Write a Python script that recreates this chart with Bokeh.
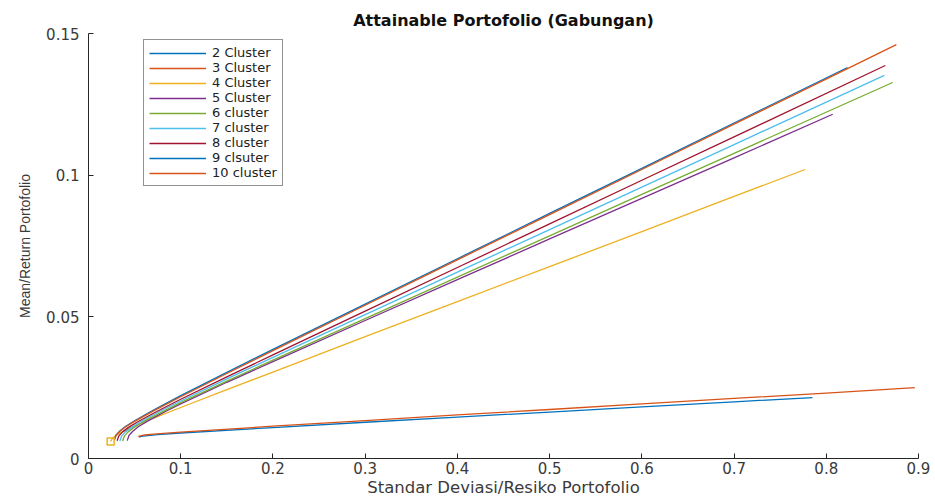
from bokeh.plotting import figure
from bokeh.models import Range1d, FixedTicker, Legend, LegendItem
from bokeh.embed import file_html
from bokeh.resources import INLINE

# Portfolio risk (std. dev.) and mean return along each efficient frontier
sd_2 = [0.055, 0.057, 0.062, 0.075, 0.1, 0.2, 0.3, 0.4, 0.5, 0.6, 0.7, 0.785]
mu_2 = [0.0075, 0.0078, 0.0080, 0.0084, 0.0090, 0.0109, 0.0128, 0.0146, 0.0164, 0.0182, 0.0200, 0.0215]

sd_3 = [0.054, 0.056, 0.061, 0.074, 0.1, 0.2, 0.3, 0.4, 0.5, 0.6, 0.7, 0.8, 0.896]
mu_3 = [0.0077, 0.0080, 0.0083, 0.0087, 0.0093, 0.0114, 0.0134, 0.0154, 0.0173, 0.0193, 0.0212, 0.0231, 0.0250]

sd_4 = [0.024, 0.026, 0.030, 0.036, 0.046, 0.066, 0.1, 0.15, 0.2, 0.3, 0.4, 0.5, 0.6, 0.7, 0.777]
mu_4 = [0.0060, 0.0072, 0.0082, 0.0093, 0.0109, 0.0136, 0.0180, 0.0243, 0.0305, 0.0430, 0.0554, 0.0677, 0.0801, 0.0925, 0.1020]

sd_5 = [0.042, 0.044, 0.048, 0.054, 0.064, 0.084, 0.1, 0.15, 0.2, 0.3, 0.4, 0.5, 0.6, 0.7, 0.807]
mu_5 = [0.0063, 0.0082, 0.0096, 0.0112, 0.0132, 0.0167, 0.0193, 0.0269, 0.0342, 0.0487, 0.0631, 0.0775, 0.0918, 0.1061, 0.1215]

sd_6 = [0.037, 0.039, 0.043, 0.049, 0.059, 0.079, 0.1, 0.15, 0.2, 0.3, 0.4, 0.5, 0.6, 0.7, 0.872]
mu_6 = [0.0062, 0.0080, 0.0094, 0.0109, 0.0129, 0.0163, 0.0197, 0.0273, 0.0347, 0.0494, 0.0640, 0.0786, 0.0932, 0.1077, 0.1327]

sd_7 = [0.034, 0.036, 0.040, 0.046, 0.056, 0.076, 0.1, 0.15, 0.2, 0.3, 0.4, 0.5, 0.6, 0.7, 0.863]
mu_7 = [0.0062, 0.0080, 0.0094, 0.0108, 0.0129, 0.0164, 0.0203, 0.0281, 0.0357, 0.0508, 0.0658, 0.0808, 0.0958, 0.1108, 0.1352]

sd_8 = [0.031, 0.033, 0.037, 0.043, 0.053, 0.073, 0.1, 0.15, 0.2, 0.3, 0.4, 0.5, 0.6, 0.7, 0.864]
mu_8 = [0.0063, 0.0080, 0.0094, 0.0109, 0.0129, 0.0164, 0.0209, 0.0288, 0.0366, 0.0520, 0.0674, 0.0828, 0.0982, 0.1135, 0.1387]

sd_9 = [0.028, 0.030, 0.034, 0.040, 0.050, 0.070, 0.1, 0.15, 0.2, 0.3, 0.4, 0.5, 0.6, 0.7, 0.823]
mu_9 = [0.0066, 0.0083, 0.0097, 0.0113, 0.0133, 0.0170, 0.0222, 0.0304, 0.0385, 0.0545, 0.0705, 0.0865, 0.1024, 0.1184, 0.1380]

sd_10 = [0.028, 0.030, 0.034, 0.040, 0.050, 0.070, 0.1, 0.15, 0.2, 0.3, 0.4, 0.5, 0.6, 0.7, 0.823, 0.876]
mu_10 = [0.0065, 0.0082, 0.0096, 0.0111, 0.0131, 0.0167, 0.0218, 0.0300, 0.0381, 0.0541, 0.0701, 0.0861, 0.1020, 0.1180, 0.1376, 0.1461]

labels = ["2 Cluster", "3 Cluster", "4 Cluster", "5 Cluster", "6 cluster",
          "7 cluster", "8 cluster", "9 clsuter", "10 cluster"]
colors = ["#0072BD", "#D95319", "#EDB120", "#7E2F8E", "#77AC30",
          "#4DBEEE", "#A2142F", "#0072BD", "#D95319"]

x_ticks = [0, 0.1, 0.2, 0.3, 0.4, 0.5, 0.6, 0.7, 0.8, 0.9]
x_tick_labels = ["0", "0.1", "0.2", "0.3", "0.4", "0.5", "0.6", "0.7", "0.8", "0.9"]
y_ticks = [0, 0.05, 0.1, 0.15]
y_tick_labels = ["0", "0.05", "0.1", "0.15"]

# marker at the minimum-variance point of the 4-cluster frontier
mvp_4_sd = [0.024]
mvp_4_mu = [0.006]

series = [(sd_2, mu_2), (sd_3, mu_3), (sd_4, mu_4), (sd_5, mu_5), (sd_6, mu_6),
          (sd_7, mu_7), (sd_8, mu_8), (sd_9, mu_9), (sd_10, mu_10)]

WIDE = "DejaVu Sans"
NARROW = "Liberation Sans"
TXT = "#3a3a3a"

p = figure(width=935, height=499, output_backend="svg", toolbar_location=None,
           x_range=Range1d(0, 0.9), y_range=Range1d(0, 0.15),
           min_border_left=88, min_border_right=17, min_border_top=33,
           min_border_bottom=40)

p.title.text = "Attainable Portofolio (Gabungan)"
p.title.align = "center"
p.title.text_font = WIDE
p.title.text_font_size = "16px"
p.title.text_font_style = "bold"
p.title.text_color = "#111111"
p.title.standoff = 8

p.outline_line_color = None
p.grid.visible = False
p.background_fill_color = "white"
p.border_fill_color = "white"

for ax, ticks, tlabels in ((p.xaxis[0], x_ticks, x_tick_labels), (p.yaxis[0], y_ticks, y_tick_labels)):
    ax.ticker = FixedTicker(ticks=ticks)
    ax.major_label_overrides = {t: s for t, s in zip(ticks, tlabels)}
    ax.major_tick_in = 5
    ax.major_tick_out = 0
    ax.minor_tick_line_color = None
    ax.axis_line_color = "#262626"
    ax.major_tick_line_color = "#262626"
    ax.major_label_text_font = WIDE
    ax.major_label_text_font_size = "15px"
    ax.major_label_text_color = TXT
    ax.axis_label_text_font_style = "normal"
    ax.axis_label_text_color = TXT

p.xaxis.axis_label = "Standar Deviasi/Resiko Portofolio"
p.xaxis.axis_label_text_font = WIDE
p.xaxis.axis_label_text_font_size = "16.5px"
p.xaxis.major_label_standoff = 3
p.xaxis.axis_label_standoff = 1

p.yaxis.axis_label = "Mean/Return Portofolio"
p.yaxis.axis_label_text_font = NARROW
p.yaxis.axis_label_text_font_size = "14px"
p.yaxis.major_label_standoff = 9
p.yaxis.axis_label_standoff = 10

items = []
for (sd, mu), lab, col in zip(series, labels, colors):
    r = p.line(sd, mu, line_color=col, line_width=1.3)
    items.append(LegendItem(label=lab, renderers=[r]))

p.scatter(mvp_4_sd, mvp_4_mu, marker="square", size=7, fill_color=None,
          line_color="#EDB120", line_width=1.5)

legend = Legend(items=items, location=(55, 272), orientation="vertical",
                label_text_font=WIDE, label_text_font_size="13px",
                label_text_color="#222222", label_height=14, glyph_height=14,
                glyph_width=57, label_standoff=6, spacing=0, padding=5,
                margin=0, border_line_color="#262626", border_line_width=1,
                background_fill_color="white", background_fill_alpha=1)
p.add_layout(legend, "center")

open("out.html", "w").write(file_html(p, INLINE))
